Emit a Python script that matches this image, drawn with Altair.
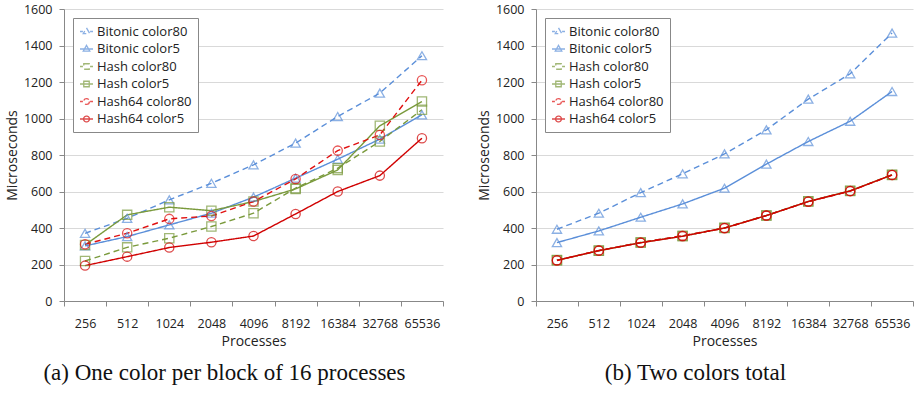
import altair as alt
import pandas as pd

procs = ["256", "512", "1024", "2048", "4096", "8192", "16384", "32768", "65536"]
series_names = ["Bitonic color80", "Bitonic color5", "Hash color80",
                "Hash color5", "Hash64 color80", "Hash64 color5"]

# Panel (a): one color per block of 16 processes
bitonic80_a = [371, 453, 554, 645, 746, 865, 1011, 1139, 1344]
bitonic5_a = [302, 353, 417, 481, 569, 673, 777, 887, 1020]
hash80_a = [219, 294, 344, 408, 481, 618, 728, 874, 1048]
hash5_a = [307, 472, 514, 495, 545, 614, 718, 960, 1093]
hash64_80_a = [311, 371, 450, 466, 545, 669, 824, 910, 1210]
hash64_5_a = [194, 243, 293, 322, 356, 477, 600, 687, 892]

# Panel (b): two colors total
bitonic80_b = [393, 481, 594, 697, 806, 938, 1106, 1245, 1468]
bitonic5_b = [320, 384, 459, 532, 618, 750, 874, 985, 1148]
hash80_b = [224, 276, 321, 357, 401, 469, 546, 603, 692]
hash5_b = [223, 275, 320, 355, 400, 468, 545, 604, 691]
hash64_80_b = [222, 277, 320, 358, 399, 468, 544, 602, 690]
hash64_5_b = [223, 276, 319, 355, 400, 468, 545, 603, 691]

captions = ["(a) One color per block of 16 processes", "(b) Two colors total"]

colors = ["#5B8FD9", "#5B8FD9", "#7A9A3C", "#7A9A3C", "#E01010", "#D00000"]
dashes = [[6, 4], [1, 0], [6, 4], [1, 0], [6, 4], [1, 0]]
markers = ["triangle-up", "triangle-up", "square", "square", "circle", "circle"]

tri = "M0,-0.55L0.5,0.32L-0.5,0.32Z"
sq = "M-0.42,-0.42H0.42V0.42H-0.42Z"
circ = "M0.45,0A0.45,0.45,0,1,1,-0.45,0A0.45,0.45,0,1,1,0.45,0Z"
dash_line = "M-1,0H-0.55M0.55,0H1"
solid_line = "M-1,0H1"
legend_paths = [dash_line + tri, solid_line + tri, dash_line + sq,
                solid_line + sq, dash_line + circ, solid_line + circ]

FONT = "Open Sans"


def make_df(arrays):
    rows = []
    for name, vals, mk in zip(series_names, arrays, markers):
        for p, v in zip(procs, vals):
            rows.append({"proc": p, "value": v, "series": name, "marker": mk})
    return pd.DataFrame(rows)


def panel(arrays, caption, width):
    df = make_df(arrays)
    base = alt.Chart(df)
    x = alt.X("proc:O", sort=procs, title="Processes",
              scale=alt.Scale(type="band", paddingInner=0, paddingOuter=0),
              axis=alt.Axis(labelAngle=0, tickBand="extent", labelFont=FONT,
                            labelFontSize=12.5, labelColor="#222222",
                            titleFont=FONT, titleFontSize=14, titleFontWeight="normal",
                            titleColor="#222222", domainColor="#888888",
                            tickColor="#888888", tickSize=5, labelPadding=11,
                            titlePadding=5, grid=False))
    y = alt.Y("value:Q", title="Microseconds",
              scale=alt.Scale(domain=[0, 1600], nice=False),
              axis=alt.Axis(values=list(range(0, 1601, 200)), format="d",
                            labelFont=FONT, labelFontSize=12.5, labelColor="#222222",
                            titleFont=FONT, titleFontSize=14, titleFontWeight="normal",
                            titleColor="#222222", domainColor="#888888",
                            tickColor="#888888", tickSize=5, labelPadding=7,
                            titlePadding=4, gridColor="#D9D9D9"))
    color = alt.Color("series:N", sort=series_names,
                      scale=alt.Scale(domain=series_names, range=colors),
                      legend=alt.Legend(title=None, orient="none", legendX=9, legendY=9,
                                        labelFont=FONT, labelFontSize=13,
                                        labelColor="#222222", symbolSize=169,
                                        symbolStrokeWidth=1.3, rowPadding=2.5,
                                        labelOffset=3, padding=6,
                                        strokeColor="#888888", fillColor="white",
                                        symbolFillColor="transparent"))
    lines = base.mark_line(strokeWidth=1.4).encode(
        x=x, y=y, color=color,
        strokeDash=alt.StrokeDash("series:N", sort=series_names,
                                  scale=alt.Scale(domain=series_names, range=dashes),
                                  legend=None),
    )
    pts = base.mark_point(size=85, strokeWidth=1.3, filled=False).encode(
        x=x, y=y, color=color,
        shape=alt.Shape("marker:N", scale=None),
    )
    legend_layer = base.mark_point(filled=False, strokeWidth=1.3).transform_filter(
        "datum.value < 0"
    ).encode(
        x=x, y=y, color=color,
        shape=alt.Shape("series:N", sort=series_names,
                        scale=alt.Scale(domain=series_names, range=legend_paths)),
    )
    return alt.layer(lines, pts, legend_layer).properties(
        width=width, height=292,
        title=alt.TitleParams(caption, orient="bottom", anchor="middle",
                              frame="bounds", font="Liberation Serif",
                              fontSize=23, fontWeight="normal", color="#111111",
                              offset=13),
    )


left = panel([bitonic80_a, bitonic5_a, hash80_a, hash5_a, hash64_80_a, hash64_5_a],
             captions[0], 379)
right = panel([bitonic80_b, bitonic5_b, hash80_b, hash5_b, hash64_80_b, hash64_5_b],
              captions[1], 377)

chart = alt.hconcat(left, right, spacing=33).resolve_scale(
    color="independent", shape="independent", strokeDash="independent"
).resolve_legend(
    color="independent", shape="independent", strokeDash="independent"
).properties(
    padding={"top": 3, "left": 5, "right": 2, "bottom": 0}
).configure_view(stroke=None)

chart.save("out.html", embed_options={"renderer": "svg", "actions": False})
